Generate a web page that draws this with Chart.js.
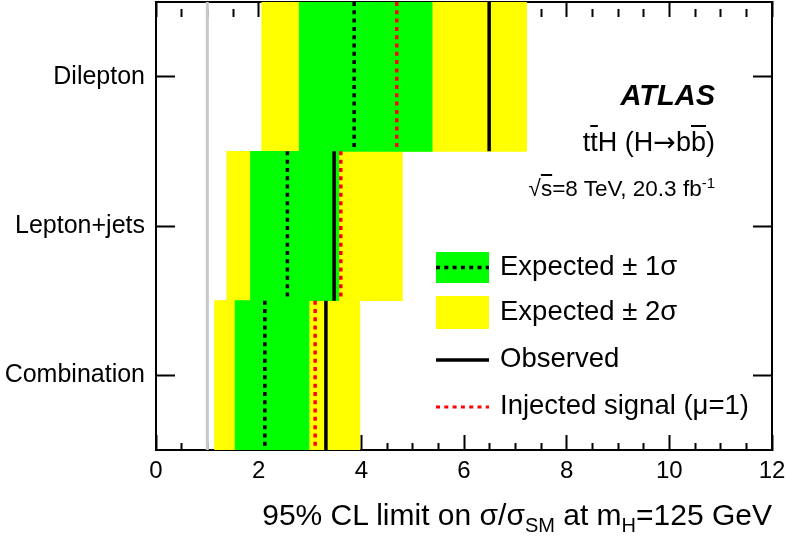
<!DOCTYPE html>
<html>
<head>
<meta charset="utf-8">
<script src="https://cdn.jsdelivr.net/npm/chart.js@4/dist/chart.umd.min.js"></script>
<style>
  html, body { margin: 0; padding: 0; background: #fff; }
  #wrap { position: relative; width: 786px; height: 536px; overflow: hidden; font-family: "Liberation Sans", Arial, Helvetica, sans-serif; color: #000; }
  #c { position: absolute; left: 0; top: 0; }
  .t { position: absolute; white-space: nowrap; line-height: 1; }
  .ov { text-decoration: overline; text-decoration-thickness: 1.5px; }
  .arr { font-family: "DejaVu Sans", sans-serif; }
  sub, sup { line-height: 0; }
</style>
</head>
<body>
<div id="wrap">
  <canvas id="c" width="786" height="536"></canvas>
  <div class="t" style="right:71px; top:81px; font-size:29px; font-weight:bold; font-style:italic;">ATLAS</div>
  <div class="t" style="right:71px; top:128px; font-size:27px;">t<span class="ov">t</span>H (H<span class="arr">&#8594;</span>b<span class="ov">b</span>)</div>
  <div class="t" style="right:71px; top:178px; font-size:22.5px;">&#8730;<span class="ov">s</span>=8 TeV, 20.3 fb<sup style="font-size:15px;">-1</sup></div>
  <div class="t" style="right:14px; top:500px; font-size:30px;">95% CL limit on &#963;/&#963;<sub style="font-size:20px;">SM</sub> at m<sub style="font-size:20px;">H</sub>=125 GeV</div>
</div>
<script>
// ---- data ----
const categories = ['Dilepton', 'Lepton+jets', 'Combination'];
const exp2Low  = [2.06, 1.38, 1.14];
const exp2High = [7.22, 4.80, 3.97];
const exp1Low  = [2.79, 1.84, 1.54];
const exp1High = [5.38, 3.56, 2.98];
const expected = [3.86, 2.56, 2.12];
const observed = [6.49, 3.47, 3.31];
const injected = [4.69, 3.60, 3.10];
const smLine = 1;
const xMin = 0, xMax = 12, xStep = 0.5, xMajor = 2;
const legendLabels = ['Expected \u00B1 1\u03C3', 'Expected \u00B1 2\u03C3', 'Observed', 'Injected signal (\u03BC=1)'];

const FONT = '"Liberation Sans", Arial, Helvetica, sans-serif';

function segments(vals) {
  const out = [];
  vals.forEach((v, i) => {
    out.push({ x: v, y: i - 0.5 }, { x: v, y: i + 0.5 }, { x: null, y: null });
  });
  return out;
}

const band = (lo, hi) => lo.map((l, i) => [l, hi[i]]);

const tickDash = (ctx) => (ctx.tick && Math.abs(ctx.tick.value % xMajor) < 1e-9) ? [] : [8, 100];

const gridX = {
  drawOnChartArea: false, drawTicks: true, tickLength: -15,
  tickColor: '#000', tickWidth: 2, tickBorderDash: tickDash
};
const gridY = {
  offset: false, drawOnChartArea: false, drawTicks: true, tickLength: -19,
  tickColor: '#000', tickWidth: 2
};
const border = { display: true, color: '#000', width: 2 };

function fixBox(size, horizontal) {
  return (s) => {
    if (horizontal) s.height = size; else s.width = size;
    s.paddingTop = 0; s.paddingBottom = 0; s.paddingLeft = 0; s.paddingRight = 0;
  };
}

const legendPlugin = {
  id: 'rootLegend',
  afterDraw(chart) {
    const c = chart.ctx;
    c.save();
    const x0 = 436, x1 = 489;
    c.fillStyle = '#00ff00';
    c.fillRect(x0, 252, x1 - x0, 31);
    c.strokeStyle = '#000'; c.lineWidth = 3.5; c.setLineDash([4, 4.3]);
    c.beginPath(); c.moveTo(x0, 267.5); c.lineTo(x1, 267.5); c.stroke();
    c.fillStyle = '#ffff00';
    c.fillRect(x0, 296, x1 - x0, 33);
    c.setLineDash([]); c.lineWidth = 3.5; c.strokeStyle = '#000';
    c.beginPath(); c.moveTo(x0, 360); c.lineTo(x1, 360); c.stroke();
    c.setLineDash([4, 4.3]); c.strokeStyle = '#ff0000'; c.lineWidth = 3;
    c.beginPath(); c.moveTo(x0, 407); c.lineTo(x1, 407); c.stroke();
    c.setLineDash([]);
    c.fillStyle = '#000';
    c.font = '27.5px ' + FONT;
    c.textBaseline = 'middle';
    c.textAlign = 'left';
    const ys = [267, 312, 359, 406];
    legendLabels.forEach((t, i) => c.fillText(t, 500, ys[i]));
    c.restore();
  }
};

new Chart(document.getElementById('c'), {
  type: 'bar',
  data: {
    labels: categories,
    datasets: [
      { type: 'line', label: 'Injected', data: segments(injected), yAxisID: 'yl', xAxisID: 'x',
        borderColor: '#ff0000', borderWidth: 3.5, borderDash: [4, 4.3], pointRadius: 0, fill: false, tension: 0, spanGaps: false, order: 0 },
      { type: 'line', label: 'Observed', data: segments(observed), yAxisID: 'yl', xAxisID: 'x',
        borderColor: '#000', borderWidth: 3.5, pointRadius: 0, fill: false, tension: 0, spanGaps: false, order: 1 },
      { type: 'line', label: 'Expected', data: segments(expected), yAxisID: 'yl', xAxisID: 'x',
        borderColor: '#000', borderWidth: 3.5, borderDash: [4, 4.3], pointRadius: 0, fill: false, tension: 0, spanGaps: false, order: 2 },
      { type: 'line', label: 'SM', data: [{ x: smLine, y: -0.5 }, { x: smLine, y: 2.5 }], yAxisID: 'yl', xAxisID: 'x',
        borderColor: '#c8c8c8', borderWidth: 3, pointRadius: 0, fill: false, tension: 0, order: 3 },
      { label: 'Expected \u00B1 1\u03C3', data: band(exp1Low, exp1High), backgroundColor: '#00ff00', borderWidth: 0,
        borderSkipped: false, barPercentage: 1, categoryPercentage: 1, grouped: false, xAxisID: 'x', yAxisID: 'y', order: 10 },
      { label: 'Expected \u00B1 2\u03C3', data: band(exp2Low, exp2High), backgroundColor: '#ffff00', borderWidth: 0,
        borderSkipped: false, barPercentage: 1, categoryPercentage: 1, grouped: false, xAxisID: 'x', yAxisID: 'y', order: 11 }
    ]
  },
  options: {
    indexAxis: 'y',
    responsive: false,
    animation: false,
    layout: { padding: { left: 0, right: 14, top: 2, bottom: 0 } },
    plugins: { legend: { display: false }, tooltip: { enabled: false } },
    scales: {
      x: {
        type: 'linear', position: 'bottom', min: xMin, max: xMax, z: 1,
        ticks: {
          stepSize: xStep, autoSkip: false, maxRotation: 0, includeBounds: true,
          color: '#000', font: { size: 24, family: FONT }, padding: 22,
          callback: (v) => (Math.abs(v % xMajor) < 1e-9 ? String(v) : '')
        },
        grid: gridX, border: border,
        afterFit: fixBox(86, true)
      },
      x2: {
        type: 'linear', position: 'top', min: xMin, max: xMax, z: 1,
        ticks: { display: false, stepSize: xStep, autoSkip: false },
        grid: gridX, border: border,
        afterFit: fixBox(0, true)
      },
      y: {
        type: 'category', position: 'left', offset: true, z: 1,
        ticks: { color: '#000', font: { size: 25, family: FONT }, padding: 30 },
        grid: gridY, border: border,
        afterFit: fixBox(156, false)
      },
      y2: {
        type: 'category', position: 'right', offset: true, z: 1,
        ticks: { display: false },
        grid: gridY, border: border,
        afterFit: fixBox(0, false)
      },
      yl: {
        type: 'linear', display: false, min: -0.5, max: 2.5, reverse: true, offset: false
      }
    }
  },
  plugins: [legendPlugin]
});
</script>
</body>
</html>
